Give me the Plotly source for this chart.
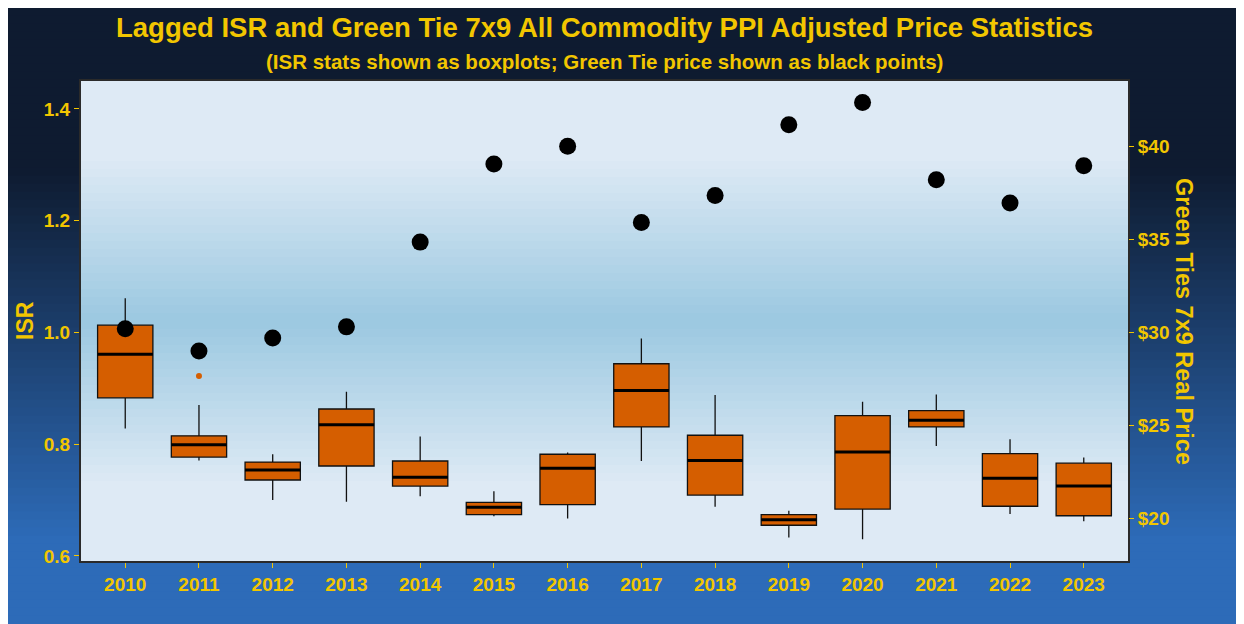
import plotly.graph_objects as go

# ---------------- data ----------------
years = ["2010", "2011", "2012", "2013", "2014", "2015", "2016",
         "2017", "2018", "2019", "2020", "2021", "2022", "2023"]
isr_lower = [0.828, 0.771, 0.700, 0.697, 0.707, 0.671, 0.667,
             0.770, 0.688, 0.633, 0.630, 0.797, 0.675, 0.662]
isr_q1 = [0.883, 0.777, 0.736, 0.761, 0.725, 0.674, 0.692,
          0.831, 0.709, 0.655, 0.684, 0.831, 0.689, 0.672]
isr_median = [0.961, 0.799, 0.754, 0.835, 0.741, 0.687, 0.757,
              0.896, 0.771, 0.665, 0.786, 0.843, 0.739, 0.725]
isr_q3 = [1.013, 0.815, 0.768, 0.863, 0.770, 0.696, 0.782,
          0.944, 0.816, 0.674, 0.851, 0.860, 0.783, 0.766]
isr_upper = [1.061, 0.870, 0.782, 0.894, 0.814, 0.716, 0.785,
             0.989, 0.888, 0.681, 0.876, 0.889, 0.809, 0.776]
outlier_years = ["2011"]
outlier_values = [0.922]
price = [30.2, 29.0, 29.7, 30.3, 34.85, 39.05, 40.0,
         35.9, 37.35, 41.15, 42.35, 38.2, 36.95, 38.95]
price_ticks = [20, 25, 30, 35, 40]
price_labels = ["$20", "$25", "$30", "$35", "$40"]
isr_ticks = [0.6, 0.8, 1.0, 1.2, 1.4]

# ---------------- styling ----------------
OFF = 8                       # page body margin
W, H = 1244 - OFF, 624 - OFF
ML, MT = 81 - OFF, 81 - OFF
PW, PH = 1047, 480
MR, MB = W - ML - PW, H - MT - PH
GOLD = "#F2C600"
FONT = "Liberation Sans, Arial, sans-serif"
BOX_FILL = "#D55E00"


def lerp(c1, c2, t):
    return "rgb(%d,%d,%d)" % tuple(round(a + (b - a) * t) for a, b in zip(c1, c2))


shapes = []
# outer background gradient (paper coordinates)
top_c, bot_c = (14, 27, 48), (45, 107, 184)
step = 8
y = 0
while y < H:
    y2 = min(y + step, H)
    mid = (y + y2) / 2 + OFF
    t = min(max((mid - 170) / (540 - 170), 0), 1)
    shapes.append(dict(
        type="rect", xref="paper", yref="paper", layer="below",
        x0=(-ML - 2) / PW, x1=(W - ML + 2) / PW,
        y0=(H - MB - y2 - (2 if y2 >= H else 0)) / PH,
        y1=(H - MB - y + (2 if y == 0 else 0.5)) / PH,
        fillcolor=lerp(top_c, bot_c, t), line=dict(width=0)))
    y = y2

# panel gradient (light - blue - light)
light_c, mid_c = (222, 234, 245), (155, 200, 224)
n = 60
for i in range(n):
    f0, f1 = i / n, (i + 1) / n
    fm = (f0 + f1) / 2
    d = abs(fm - 0.5) / 0.5
    t = min(max(d / 0.68, 0), 1)
    shapes.append(dict(
        type="rect", xref="x domain", yref="y domain", layer="below",
        x0=0, x1=1, y0=f0, y1=f1 + 0.001,
        fillcolor=lerp(mid_c, light_c, t), line=dict(width=0)))

fig = go.Figure()

fig.add_trace(go.Box(
    x=years, q1=isr_q1, median=isr_median, q3=isr_q3,
    lowerfence=isr_lower, upperfence=isr_upper,
    fillcolor=BOX_FILL, line=dict(color="#111111", width=1.3),
    whiskerwidth=0, width=0.75, boxpoints=False,
    showlegend=False, hoverinfo="skip"))

# thick median line
fig.add_trace(go.Box(
    x=years, q1=isr_median, median=isr_median, q3=isr_median,
    lowerfence=isr_median, upperfence=isr_median,
    fillcolor="rgba(0,0,0,0)", line=dict(color="black", width=3),
    whiskerwidth=0, width=0.75, boxpoints=False,
    showlegend=False, hoverinfo="skip"))

fig.add_trace(go.Scatter(
    x=outlier_years, y=outlier_values, mode="markers",
    marker=dict(color=BOX_FILL, size=6), showlegend=False))

fig.add_trace(go.Scatter(
    x=years, y=price, mode="markers", yaxis="y2",
    marker=dict(color="black", size=17, line=dict(width=0)),
    showlegend=False))

tickfont = dict(family=FONT, size=19, color=GOLD, weight="bold")

fig.update_layout(
    width=W, height=H,
    margin=dict(l=ML, r=MR, t=MT, b=MB),
    paper_bgcolor="white", plot_bgcolor="#DEEAF5",
    boxmode="overlay",
    shapes=shapes,
    xaxis=dict(type="category", range=[-0.6, 13.6], showgrid=False,
               zeroline=False, ticks="outside", ticklen=5, tickcolor=GOLD,
               tickfont=tickfont, showline=True, linecolor="#2a2a2a",
               linewidth=2, mirror=True),
    yaxis=dict(range=[0.591, 1.45], tickvals=isr_ticks, tickformat=".1f",
               showgrid=False, zeroline=False, ticks="outside", ticklen=5,
               tickcolor=GOLD, tickfont=tickfont, showline=True,
               linecolor="#2a2a2a", linewidth=2, mirror=True),
    yaxis2=dict(overlaying="y", side="right", range=[0.591 * 30, 1.45 * 30],
                tickvals=price_ticks, ticktext=price_labels,
                showgrid=False, zeroline=False, ticks="outside", ticklen=5,
                tickcolor=GOLD, tickfont=tickfont, showline=False),
    annotations=[
        dict(text="Lagged ISR and Green Tie 7x9 All Commodity PPI Adjusted Price Statistics",
             xref="paper", yref="paper", x=0.5, y=1, yshift=54,
             xanchor="center", yanchor="middle", showarrow=False,
             font=dict(family=FONT, size=27.5, color=GOLD, weight="bold")),
        dict(text="(ISR stats shown as boxplots; Green Tie price shown as black points)",
             xref="paper", yref="paper", x=0.5, y=1, yshift=20,
             xanchor="center", yanchor="middle", showarrow=False,
             font=dict(family=FONT, size=20.5, color=GOLD, weight="bold")),
        dict(text="ISR", xref="paper", yref="paper",
             x=(25 - 81) / PW, y=0.5, xanchor="center", yanchor="middle",
             textangle=-90, showarrow=False,
             font=dict(family=FONT, size=23, color=GOLD, weight="bold")),
        dict(text="Green Ties 7x9 Real Price", xref="paper", yref="paper",
             x=(1184 - 81) / PW, y=0.5, xanchor="center", yanchor="middle",
             textangle=90, showarrow=False,
             font=dict(family=FONT, size=23.5, color=GOLD, weight="bold")),
    ],
)

fig.write_html(
    "out.html",
    post_script=("document.documentElement.style.overflow='hidden';"
                 "document.body.style.overflow='hidden';"))
